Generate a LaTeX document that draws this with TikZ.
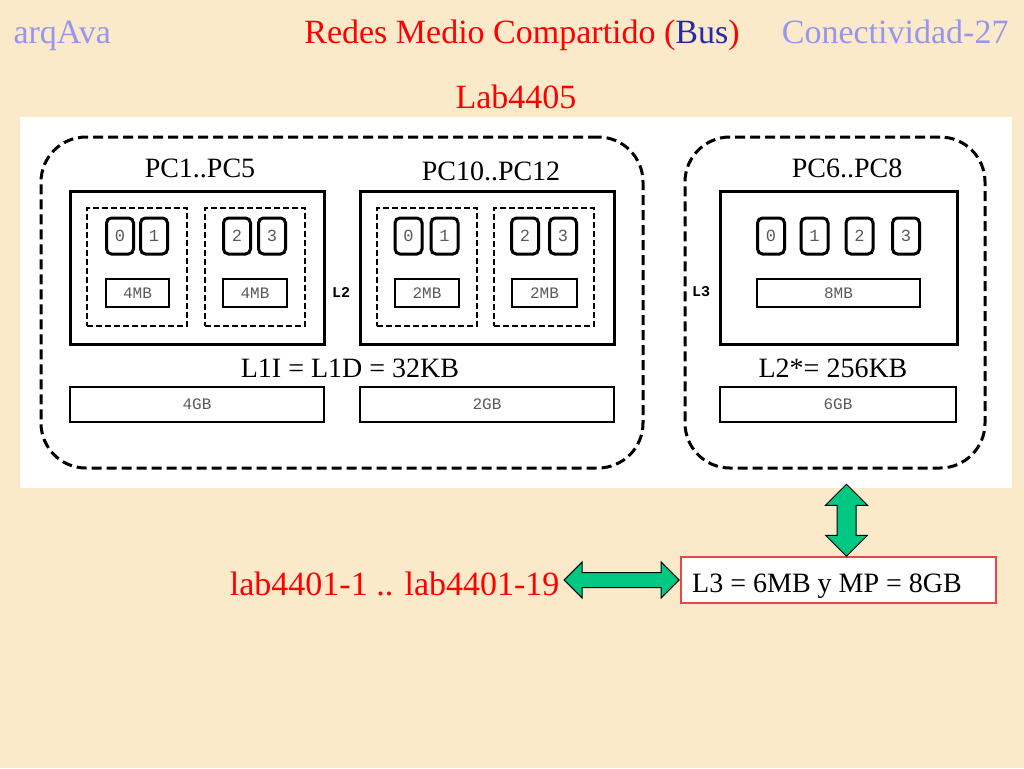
\documentclass[tikz,border=0pt]{standalone}
\usepackage{fontspec}
\setmainfont{Liberation Serif}
\newfontfamily\monofont{Liberation Mono}
\usetikzlibrary{positioning}
\usetikzlibrary{calc}
\usetikzlibrary{shapes.arrows}
\definecolor{paper}{RGB}{250,234,202}
\definecolor{titleblue}{RGB}{150,150,240}
\definecolor{busblue}{RGB}{40,40,170}
\definecolor{linkgreen}{RGB}{0,200,130}
\definecolor{monogray}{RGB}{90,90,90}
\definecolor{boxred}{RGB}{230,70,70}
\tikzset{
  group/.style = {draw, line width = 3, dash pattern = on 10 off 5, rounded corners = 45},
  chip/.style = {draw, line width = 3},
  pair/.style = {draw, line width = 2, dash pattern = on 6 off 3, minimum width = 100, minimum height = 118},
  core/.style = {draw, line width = 3, rounded corners = 5, minimum width = 27, minimum height = 36, inner sep = 0, text = monogray, font = \monofont\fontsize{17}{17}\selectfont},
  cache/.style = {draw, line width = 2, minimum height = 28, inner sep = 0, text = monogray, font = \monofont\fontsize{16}{16}\selectfont},
  ram/.style = {draw, line width = 2, minimum height = 35, inner sep = 0, text = monogray, font = \monofont\fontsize{16}{16}\selectfont},
  pclabel/.style = {font = \fontsize{28}{28}\selectfont},
  level/.style = {font = \monofont\bfseries\fontsize{15}{15}\selectfont},
  link/.style = {double arrow, draw, line width = 1, fill = linkgreen, inner xsep = 0},
  heading/.style = {font = \fontsize{34}{34}\selectfont, anchor = base}
}
\begin{document}
\begin{tikzpicture}[x=1pt, y=-1pt]
      \fill [paper] (0, 0) rectangle (1024, 768);
      \useasboundingbox (0, 0) rectangle (1024, 768);
      \node [fill = white, minimum width = 992, minimum height = 371, inner sep = 0] (panel) at (516, 302.5) {};

      % titles
      \node [heading, titleblue, anchor = base west] (course) at (10, 44) {arqAva};
      \node [heading, red] (title) at (522, 44) {Redes Medio Compartido (\textcolor{busblue}{Bus})};
      \node [heading, titleblue, anchor = base east] (slide) at (1012, 44) {Conectividad-27};
      \node [heading, red] (lab) at (516, 108) {Lab4405};

      % lab 4405 groups
      \node [group, minimum width = 602, minimum height = 331] (left) at (342, 302.5) {};
      \node [group, minimum width = 300, minimum height = 331] (right) at (835, 302.5) {};

      \node [pclabel] (pcA) at (200, 168) {PC1..PC5};
      \node [pclabel] (pcB) at (491, 171) {PC10..PC12};
      \node [pclabel] (pcC) at (847, 168) {PC6..PC8};

      \node [chip, minimum width = 254, minimum height = 153] (chipA) at (197, 267.5) {};
      \node [chip, minimum width = 254, minimum height = 153] (chipB) at (487, 267.5) {};
      \node [chip, minimum width = 237, minimum height = 153] (chipC) at (838.5, 267.5) {};

      \node [pair] (pairA1) at (137, 267) {};
      \node [pair] (pairA2) at (255, 267) {};
      \node [pair] (pairB1) at (427, 267) {};
      \node [pair] (pairB2) at (544, 267) {};

      \node [core] (a0) at (120, 236) {0};
      \node [core] (a1) at (154, 236) {1};
      \node [core] (a2) at (237, 236) {2};
      \node [core] (a3) at (272, 236) {3};
      \node [core] (b0) at (408.5, 236) {0};
      \node [core] (b1) at (444.5, 236) {1};
      \node [core] (b2) at (525, 236) {2};
      \node [core] (b3) at (563, 236) {3};
      \node [core] (c0) at (771, 236) {0};
      \node [core] (c1) at (814.5, 236) {1};
      \node [core] (c2) at (859.5, 236) {2};
      \node [core] (c3) at (906, 236) {3};

      \node [cache, minimum width = 63] (l2a1) at (137.5, 293) {4MB};
      \node [cache, minimum width = 64] (l2a2) at (255, 293) {4MB};
      \node [cache, minimum width = 64] (l2b1) at (427, 293) {2MB};
      \node [cache, minimum width = 65] (l2b2) at (544.5, 293) {2MB};
      \node [cache, minimum width = 163] (l3c) at (838.5, 293) {8MB};

      \node [level] (lvl2) at (341, 292) {L2};
      \node [level] (lvl3) at (701, 292) {L3};

      \node [pclabel] (l1) at (350, 368) {L1I = L1D = 32KB};
      \node [pclabel] (l2star) at (833, 368) {L2*= 256KB};

      \node [ram, minimum width = 254] (ramA) at (197, 404.5) {4GB};
      \node [ram, minimum width = 254] (ramB) at (487, 404.5) {2GB};
      \node [ram, minimum width = 236] (ramC) at (838, 404.5) {6GB};

      % other labs
      \node [draw = boxred, fill = white, line width = 1.5, minimum width = 315, minimum height = 46, inner sep = 0] (shared) at (838.5, 580) {};
      \node [pclabel, anchor = base west, inner sep = 0] (sharedtext) at (692, 592) {L3 = 6MB y MP = 8GB};
      \node [heading, red, anchor = base east] (others) at (563, 595) {lab4401-1 .. lab4401-19};

      \node [link, inner ysep = 7, minimum height = 115, double arrow head extend = 10.5] (hlink) at ($(others.east |- shared.west)!0.5!(shared.west)$) {};
      \node [link, inner ysep = 9, minimum height = 72, double arrow head extend = 11.5, rotate = 90] (vlink) at ($(shared.north)+(8, -36)$) {};
    \end{tikzpicture}
\end{document}
